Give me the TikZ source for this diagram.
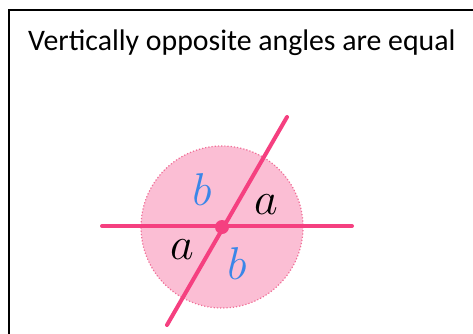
\RequirePackage{fix-cm}
\documentclass[tikz,border=0pt]{standalone}
\usepackage{fontspec}
\setmainfont{Carlito}
\usepackage{xcolor}
\usetikzlibrary{math, calc}
\definecolor{mypink}{RGB}{245,64,128}
\definecolor{mylightpink}{RGB}{251,190,212}
\definecolor{mydotpink}{RGB}{240,110,150}
\definecolor{myblue}{RGB}{58,134,232}

\tikzset{
  line/.style={color=mypink, line width=4pt, line cap=round},
  angle label/.style={font=\fontsize{46}{46}\selectfont},
}

\begin{document}
\begin{tikzpicture}[x=1pt,y=-1pt]
\tikzmath{
\xc=222;
\yc=227;
\r=81;
}
 \useasboundingbox (0,0) rectangle (473,333);
 \clip (0,0) rectangle (473,333);

 \draw[line width=1.5pt] (9,10) rectangle (490,350);
 \node[anchor=base west, inner sep=0pt, font=\fontsize{29.8}{30}\selectfont] (title) at (28,50) {Vertically opposite angles are equal};

 \coordinate (O) at (\xc,\yc);
 \coordinate (L) at ($(O)+(-120,-1)$);
 \coordinate (R) at ($(O)+(130,-1)$);
 \coordinate (T) at ($(O)+(65,-110)$);
 \coordinate (B) at ($(O)+(-55,98)$);

 \fill[color=mylightpink] (O) circle (\r);
 \draw[color=mydotpink, line width=1.2pt, dotted] (O) circle (\r);

 \draw[line] (L) -- (R);
 \draw[line] (B) -- (T);
 \fill[color=mypink] (O) circle (7);

 \node[angle label, color=myblue] (b1) at (202,190) {$b$};
 \node[angle label] (a1) at (266,205) {$a$};
 \node[angle label] (a2) at (182,250) {$a$};
 \node[angle label, color=myblue] (b2) at (237,264) {$b$};
\end{tikzpicture}
\end{document}
